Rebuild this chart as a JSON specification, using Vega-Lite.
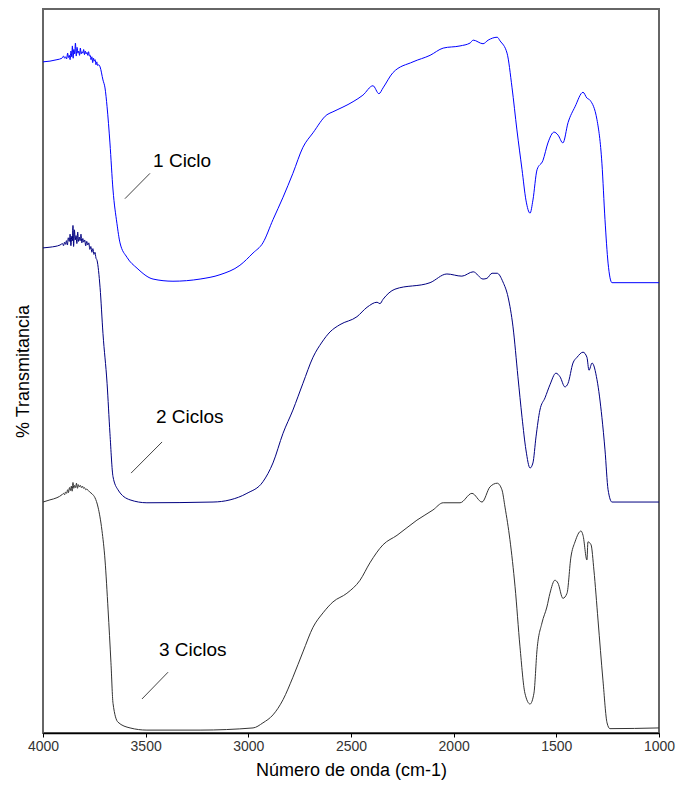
{
  "$schema": "https://vega.github.io/schema/vega-lite/v6.json",
  "width": 616,
  "height": 724,
  "autosize": {"type": "none"},
  "padding": {"left": 43, "top": 9, "right": 20, "bottom": 55},
  "background": "white",
  "config": {
    "font": "Liberation Sans",
    "view": {"stroke": "#666666", "strokeWidth": 2}
  },
  "datasets": {
    "spectra": [
      {"serie":"1 Ciclo","wn":4000,"T":92.7},{"serie":"1 Ciclo","wn":3966,"T":92.8},{"serie":"1 Ciclo","wn":3932,"T":93.0},
      {"serie":"1 Ciclo","wn":3908,"T":93.2},{"serie":"1 Ciclo","wn":3900,"T":93.5},{"serie":"1 Ciclo","wn":3895,"T":93.2},
      {"serie":"1 Ciclo","wn":3890,"T":93.4},{"serie":"1 Ciclo","wn":3885,"T":93.1},{"serie":"1 Ciclo","wn":3880,"T":93.9},
      {"serie":"1 Ciclo","wn":3876,"T":93.3},{"serie":"1 Ciclo","wn":3872,"T":93.6},{"serie":"1 Ciclo","wn":3868,"T":93.0},
      {"serie":"1 Ciclo","wn":3864,"T":94.2},{"serie":"1 Ciclo","wn":3860,"T":93.4},{"serie":"1 Ciclo","wn":3857,"T":94.9},
      {"serie":"1 Ciclo","wn":3853,"T":93.2},{"serie":"1 Ciclo","wn":3850,"T":94.4},{"serie":"1 Ciclo","wn":3846,"T":93.8},
      {"serie":"1 Ciclo","wn":3842,"T":95.3},{"serie":"1 Ciclo","wn":3838,"T":93.5},{"serie":"1 Ciclo","wn":3834,"T":94.7},
      {"serie":"1 Ciclo","wn":3830,"T":93.9},{"serie":"1 Ciclo","wn":3826,"T":94.2},{"serie":"1 Ciclo","wn":3822,"T":93.6},
      {"serie":"1 Ciclo","wn":3818,"T":94.6},{"serie":"1 Ciclo","wn":3814,"T":93.8},{"serie":"1 Ciclo","wn":3810,"T":94.1},
      {"serie":"1 Ciclo","wn":3806,"T":93.9},{"serie":"1 Ciclo","wn":3802,"T":94.4},{"serie":"1 Ciclo","wn":3798,"T":93.7},
      {"serie":"1 Ciclo","wn":3794,"T":94.2},{"serie":"1 Ciclo","wn":3790,"T":93.8},{"serie":"1 Ciclo","wn":3786,"T":94.0},
      {"serie":"1 Ciclo","wn":3782,"T":93.6},{"serie":"1 Ciclo","wn":3778,"T":94.1},{"serie":"1 Ciclo","wn":3774,"T":93.5},
      {"serie":"1 Ciclo","wn":3770,"T":93.6},{"serie":"1 Ciclo","wn":3766,"T":93.0},{"serie":"1 Ciclo","wn":3762,"T":93.4},
      {"serie":"1 Ciclo","wn":3758,"T":92.6},{"serie":"1 Ciclo","wn":3754,"T":93.2},{"serie":"1 Ciclo","wn":3750,"T":92.8},
      {"serie":"1 Ciclo","wn":3746,"T":93.0},{"serie":"1 Ciclo","wn":3742,"T":92.3},{"serie":"1 Ciclo","wn":3738,"T":92.7},
      {"serie":"1 Ciclo","wn":3734,"T":92.2},{"serie":"1 Ciclo","wn":3728,"T":92.3},
      {"serie":"1 Ciclo","wn":3722,"T":92.0},{"serie":"1 Ciclo","wn":3708,"T":90.2},{"serie":"1 Ciclo","wn":3698,"T":89.1},
      {"serie":"1 Ciclo","wn":3688,"T":86.5},{"serie":"1 Ciclo","wn":3674,"T":81.5},{"serie":"1 Ciclo","wn":3659,"T":75.0},
      {"serie":"1 Ciclo","wn":3640,"T":70.4},{"serie":"1 Ciclo","wn":3625,"T":67.7},{"serie":"1 Ciclo","wn":3591,"T":65.7},
      {"serie":"1 Ciclo","wn":3542,"T":64.2},{"serie":"1 Ciclo","wn":3464,"T":62.7},{"serie":"1 Ciclo","wn":3367,"T":62.4},
      {"serie":"1 Ciclo","wn":3235,"T":62.7},{"serie":"1 Ciclo","wn":3138,"T":63.3},{"serie":"1 Ciclo","wn":3041,"T":64.6},
      {"serie":"1 Ciclo","wn":2977,"T":66.3},{"serie":"1 Ciclo","wn":2929,"T":67.7},{"serie":"1 Ciclo","wn":2880,"T":70.9},
      {"serie":"1 Ciclo","wn":2831,"T":74.0},{"serie":"1 Ciclo","wn":2783,"T":77.3},{"serie":"1 Ciclo","wn":2734,"T":80.9},
      {"serie":"1 Ciclo","wn":2685,"T":82.9},{"serie":"1 Ciclo","wn":2617,"T":85.4},{"serie":"1 Ciclo","wn":2588,"T":85.8},
      {"serie":"1 Ciclo","wn":2490,"T":87.2},{"serie":"1 Ciclo","wn":2442,"T":88.1},{"serie":"1 Ciclo","wn":2393,"T":89.4},
      {"serie":"1 Ciclo","wn":2364,"T":88.3},{"serie":"1 Ciclo","wn":2344,"T":89.1},{"serie":"1 Ciclo","wn":2296,"T":91.2},
      {"serie":"1 Ciclo","wn":2198,"T":92.7},{"serie":"1 Ciclo","wn":2115,"T":93.6},{"serie":"1 Ciclo","wn":2051,"T":94.6},
      {"serie":"1 Ciclo","wn":1969,"T":94.9},{"serie":"1 Ciclo","wn":1920,"T":95.3},{"serie":"1 Ciclo","wn":1905,"T":95.7},
      {"serie":"1 Ciclo","wn":1857,"T":95.2},{"serie":"1 Ciclo","wn":1832,"T":95.7},{"serie":"1 Ciclo","wn":1788,"T":96.1},
      {"serie":"1 Ciclo","wn":1774,"T":95.6},{"serie":"1 Ciclo","wn":1740,"T":93.9},{"serie":"1 Ciclo","wn":1716,"T":89.2},
      {"serie":"1 Ciclo","wn":1692,"T":83.3},{"serie":"1 Ciclo","wn":1667,"T":77.8},{"serie":"1 Ciclo","wn":1648,"T":73.6},
      {"serie":"1 Ciclo","wn":1628,"T":71.8},{"serie":"1 Ciclo","wn":1614,"T":73.6},{"serie":"1 Ciclo","wn":1594,"T":77.8},
      {"serie":"1 Ciclo","wn":1565,"T":79.1},{"serie":"1 Ciclo","wn":1541,"T":81.5},{"serie":"1 Ciclo","wn":1511,"T":83.0},
      {"serie":"1 Ciclo","wn":1492,"T":82.6},{"serie":"1 Ciclo","wn":1468,"T":81.5},{"serie":"1 Ciclo","wn":1443,"T":84.3},
      {"serie":"1 Ciclo","wn":1409,"T":86.5},{"serie":"1 Ciclo","wn":1370,"T":88.5},{"serie":"1 Ciclo","wn":1351,"T":87.7},
      {"serie":"1 Ciclo","wn":1336,"T":87.4},{"serie":"1 Ciclo","wn":1302,"T":84.7},{"serie":"1 Ciclo","wn":1278,"T":78.7},
      {"serie":"1 Ciclo","wn":1263,"T":70.9},{"serie":"1 Ciclo","wn":1248,"T":64.9},{"serie":"1 Ciclo","wn":1229,"T":62.2},
      {"serie":"1 Ciclo","wn":1000,"T":62.2},

      {"serie":"2 Ciclos","wn":4000,"T":67.0},{"serie":"2 Ciclos","wn":3966,"T":67.1},{"serie":"2 Ciclos","wn":3917,"T":67.4},
      {"serie":"2 Ciclos","wn":3905,"T":67.6},{"serie":"2 Ciclos","wn":3900,"T":67.3},{"serie":"2 Ciclos","wn":3895,"T":67.8},
      {"serie":"2 Ciclos","wn":3890,"T":67.5},{"serie":"2 Ciclos","wn":3886,"T":68.0},{"serie":"2 Ciclos","wn":3881,"T":67.4},
      {"serie":"2 Ciclos","wn":3877,"T":68.4},{"serie":"2 Ciclos","wn":3872,"T":67.9},{"serie":"2 Ciclos","wn":3868,"T":68.9},
      {"serie":"2 Ciclos","wn":3864,"T":67.3},{"serie":"2 Ciclos","wn":3860,"T":68.6},{"serie":"2 Ciclos","wn":3857,"T":68.0},
      {"serie":"2 Ciclos","wn":3854,"T":70.1},{"serie":"2 Ciclos","wn":3851,"T":67.2},{"serie":"2 Ciclos","wn":3847,"T":69.5},
      {"serie":"2 Ciclos","wn":3843,"T":68.1},{"serie":"2 Ciclos","wn":3839,"T":68.7},{"serie":"2 Ciclos","wn":3835,"T":67.6},
      {"serie":"2 Ciclos","wn":3831,"T":69.2},{"serie":"2 Ciclos","wn":3827,"T":67.9},{"serie":"2 Ciclos","wn":3823,"T":68.5},
      {"serie":"2 Ciclos","wn":3819,"T":68.0},{"serie":"2 Ciclos","wn":3815,"T":68.9},{"serie":"2 Ciclos","wn":3811,"T":67.7},
      {"serie":"2 Ciclos","wn":3806,"T":68.3},{"serie":"2 Ciclos","wn":3802,"T":67.8},{"serie":"2 Ciclos","wn":3797,"T":68.1},
      {"serie":"2 Ciclos","wn":3792,"T":67.3},{"serie":"2 Ciclos","wn":3787,"T":67.9},{"serie":"2 Ciclos","wn":3782,"T":67.4},
      {"serie":"2 Ciclos","wn":3777,"T":67.7},{"serie":"2 Ciclos","wn":3772,"T":66.8},{"serie":"2 Ciclos","wn":3767,"T":67.2},
      {"serie":"2 Ciclos","wn":3762,"T":66.4},{"serie":"2 Ciclos","wn":3757,"T":66.9},{"serie":"2 Ciclos","wn":3752,"T":66.1},
      {"serie":"2 Ciclos","wn":3747,"T":66.4},{"serie":"2 Ciclos","wn":3742,"T":65.6},
      {"serie":"2 Ciclos","wn":3737,"T":65.3},{"serie":"2 Ciclos","wn":3722,"T":61.5},{"serie":"2 Ciclos","wn":3708,"T":55.2},
      {"serie":"2 Ciclos","wn":3688,"T":48.3},{"serie":"2 Ciclos","wn":3674,"T":41.4},{"serie":"2 Ciclos","wn":3659,"T":35.4},
      {"serie":"2 Ciclos","wn":3635,"T":33.6},{"serie":"2 Ciclos","wn":3576,"T":32.2},{"serie":"2 Ciclos","wn":3494,"T":31.8},
      {"serie":"2 Ciclos","wn":3172,"T":31.9},{"serie":"2 Ciclos","wn":3089,"T":32.2},{"serie":"2 Ciclos","wn":3007,"T":33.1},
      {"serie":"2 Ciclos","wn":2929,"T":34.7},{"serie":"2 Ciclos","wn":2880,"T":37.3},{"serie":"2 Ciclos","wn":2831,"T":41.4},
      {"serie":"2 Ciclos","wn":2783,"T":44.6},{"serie":"2 Ciclos","wn":2734,"T":48.3},{"serie":"2 Ciclos","wn":2685,"T":51.9},
      {"serie":"2 Ciclos","wn":2641,"T":54.0},{"serie":"2 Ciclos","wn":2602,"T":55.4},{"serie":"2 Ciclos","wn":2554,"T":56.4},
      {"serie":"2 Ciclos","wn":2471,"T":57.5},{"serie":"2 Ciclos","wn":2422,"T":58.8},{"serie":"2 Ciclos","wn":2373,"T":59.5},
      {"serie":"2 Ciclos","wn":2359,"T":59.3},{"serie":"2 Ciclos","wn":2344,"T":59.9},{"serie":"2 Ciclos","wn":2286,"T":61.3},
      {"serie":"2 Ciclos","wn":2115,"T":62.2},{"serie":"2 Ciclos","wn":2033,"T":63.4},{"serie":"2 Ciclos","wn":1960,"T":63.1},
      {"serie":"2 Ciclos","wn":1905,"T":63.7},{"serie":"2 Ciclos","wn":1857,"T":62.7},{"serie":"2 Ciclos","wn":1838,"T":62.8},
      {"serie":"2 Ciclos","wn":1813,"T":63.5},{"serie":"2 Ciclos","wn":1788,"T":63.5},{"serie":"2 Ciclos","wn":1760,"T":62.3},
      {"serie":"2 Ciclos","wn":1735,"T":60.2},{"serie":"2 Ciclos","wn":1711,"T":56.1},{"serie":"2 Ciclos","wn":1687,"T":49.2},
      {"serie":"2 Ciclos","wn":1667,"T":43.6},{"serie":"2 Ciclos","wn":1648,"T":39.1},{"serie":"2 Ciclos","wn":1628,"T":36.6},
      {"serie":"2 Ciclos","wn":1614,"T":37.3},{"serie":"2 Ciclos","wn":1599,"T":40.9},{"serie":"2 Ciclos","wn":1580,"T":44.6},
      {"serie":"2 Ciclos","wn":1555,"T":46.3},{"serie":"2 Ciclos","wn":1531,"T":48.1},{"serie":"2 Ciclos","wn":1502,"T":49.7},
      {"serie":"2 Ciclos","wn":1482,"T":49.2},{"serie":"2 Ciclos","wn":1458,"T":47.8},{"serie":"2 Ciclos","wn":1443,"T":48.3},
      {"serie":"2 Ciclos","wn":1419,"T":51.1},{"serie":"2 Ciclos","wn":1399,"T":51.9},{"serie":"2 Ciclos","wn":1370,"T":52.6},
      {"serie":"2 Ciclos","wn":1351,"T":51.9},{"serie":"2 Ciclos","wn":1341,"T":50.1},{"serie":"2 Ciclos","wn":1326,"T":51.1},
      {"serie":"2 Ciclos","wn":1302,"T":48.8},{"serie":"2 Ciclos","wn":1278,"T":43.6},{"serie":"2 Ciclos","wn":1263,"T":39.1},
      {"serie":"2 Ciclos","wn":1248,"T":33.6},{"serie":"2 Ciclos","wn":1229,"T":31.9},{"serie":"2 Ciclos","wn":1000,"T":31.9},

      {"serie":"3 Ciclos","wn":4000,"T":31.9},{"serie":"3 Ciclos","wn":3966,"T":32.2},{"serie":"3 Ciclos","wn":3932,"T":32.5},
      {"serie":"3 Ciclos","wn":3908,"T":32.9},{"serie":"3 Ciclos","wn":3900,"T":33.1},{"serie":"3 Ciclos","wn":3895,"T":32.9},
      {"serie":"3 Ciclos","wn":3890,"T":33.3},{"serie":"3 Ciclos","wn":3885,"T":33.1},{"serie":"3 Ciclos","wn":3880,"T":33.6},
      {"serie":"3 Ciclos","wn":3876,"T":33.2},{"serie":"3 Ciclos","wn":3871,"T":33.9},{"serie":"3 Ciclos","wn":3866,"T":33.5},
      {"serie":"3 Ciclos","wn":3862,"T":34.1},{"serie":"3 Ciclos","wn":3858,"T":33.4},{"serie":"3 Ciclos","wn":3854,"T":34.6},
      {"serie":"3 Ciclos","wn":3850,"T":33.8},{"serie":"3 Ciclos","wn":3846,"T":34.2},{"serie":"3 Ciclos","wn":3841,"T":33.9},
      {"serie":"3 Ciclos","wn":3837,"T":34.5},{"serie":"3 Ciclos","wn":3832,"T":33.8},{"serie":"3 Ciclos","wn":3828,"T":34.3},
      {"serie":"3 Ciclos","wn":3823,"T":34.0},{"serie":"3 Ciclos","wn":3818,"T":34.2},{"serie":"3 Ciclos","wn":3813,"T":33.9},
      {"serie":"3 Ciclos","wn":3808,"T":34.1},{"serie":"3 Ciclos","wn":3803,"T":33.8},{"serie":"3 Ciclos","wn":3798,"T":33.9},
      {"serie":"3 Ciclos","wn":3792,"T":33.6},{"serie":"3 Ciclos","wn":3786,"T":33.7},{"serie":"3 Ciclos","wn":3780,"T":33.5},
      {"serie":"3 Ciclos","wn":3773,"T":33.3},{"serie":"3 Ciclos","wn":3760,"T":33.0},{"serie":"3 Ciclos","wn":3747,"T":32.5},
      {"serie":"3 Ciclos","wn":3732,"T":31.2},{"serie":"3 Ciclos","wn":3713,"T":28.0},{"serie":"3 Ciclos","wn":3698,"T":23.9},
      {"serie":"3 Ciclos","wn":3683,"T":17.0},{"serie":"3 Ciclos","wn":3669,"T":9.7},{"serie":"3 Ciclos","wn":3659,"T":4.1},
      {"serie":"3 Ciclos","wn":3635,"T":1.5},{"serie":"3 Ciclos","wn":3576,"T":0.7},{"serie":"3 Ciclos","wn":3494,"T":0.4},
      {"serie":"3 Ciclos","wn":3235,"T":0.4},{"serie":"3 Ciclos","wn":2977,"T":0.7},{"serie":"3 Ciclos","wn":2929,"T":1.4},
      {"serie":"3 Ciclos","wn":2880,"T":2.5},{"serie":"3 Ciclos","wn":2831,"T":4.6},{"serie":"3 Ciclos","wn":2783,"T":7.7},
      {"serie":"3 Ciclos","wn":2734,"T":11.2},{"serie":"3 Ciclos","wn":2685,"T":14.6},{"serie":"3 Ciclos","wn":2636,"T":16.6},
      {"serie":"3 Ciclos","wn":2588,"T":18.1},{"serie":"3 Ciclos","wn":2520,"T":19.3},{"serie":"3 Ciclos","wn":2456,"T":21.1},
      {"serie":"3 Ciclos","wn":2408,"T":23.5},{"serie":"3 Ciclos","wn":2344,"T":26.0},{"serie":"3 Ciclos","wn":2276,"T":27.3},
      {"serie":"3 Ciclos","wn":2179,"T":29.4},{"serie":"3 Ciclos","wn":2101,"T":30.8},{"serie":"3 Ciclos","wn":2051,"T":31.8},
      {"serie":"3 Ciclos","wn":1969,"T":31.8},{"serie":"3 Ciclos","wn":1911,"T":33.1},{"serie":"3 Ciclos","wn":1862,"T":31.9},
      {"serie":"3 Ciclos","wn":1823,"T":34.0},{"serie":"3 Ciclos","wn":1788,"T":34.5},{"serie":"3 Ciclos","wn":1765,"T":33.6},
      {"serie":"3 Ciclos","wn":1750,"T":31.2},{"serie":"3 Ciclos","wn":1726,"T":26.7},{"serie":"3 Ciclos","wn":1701,"T":20.2},
      {"serie":"3 Ciclos","wn":1677,"T":11.9},{"serie":"3 Ciclos","wn":1653,"T":5.5},{"serie":"3 Ciclos","wn":1628,"T":4.0},
      {"serie":"3 Ciclos","wn":1609,"T":5.5},{"serie":"3 Ciclos","wn":1594,"T":11.5},{"serie":"3 Ciclos","wn":1570,"T":15.2},
      {"serie":"3 Ciclos","wn":1546,"T":17.4},{"serie":"3 Ciclos","wn":1531,"T":19.3},{"serie":"3 Ciclos","wn":1507,"T":21.1},
      {"serie":"3 Ciclos","wn":1492,"T":20.7},{"serie":"3 Ciclos","wn":1468,"T":18.6},{"serie":"3 Ciclos","wn":1448,"T":19.3},
      {"serie":"3 Ciclos","wn":1429,"T":24.3},{"serie":"3 Ciclos","wn":1409,"T":26.4},{"serie":"3 Ciclos","wn":1380,"T":27.9},
      {"serie":"3 Ciclos","wn":1370,"T":27.3},{"serie":"3 Ciclos","wn":1351,"T":23.9},{"serie":"3 Ciclos","wn":1346,"T":26.4},
      {"serie":"3 Ciclos","wn":1331,"T":26.0},{"serie":"3 Ciclos","wn":1317,"T":22.5},{"serie":"3 Ciclos","wn":1297,"T":15.6},
      {"serie":"3 Ciclos","wn":1273,"T":7.3},{"serie":"3 Ciclos","wn":1253,"T":1.4},{"serie":"3 Ciclos","wn":1239,"T":0.6},
      {"serie":"3 Ciclos","wn":1000,"T":0.7}
    ],
    "labels": [
      {"label":"1 Ciclo","wn":3464,"T":79.0},
      {"label":"2 Ciclos","wn":3450,"T":43.6},
      {"label":"3 Ciclos","wn":3435,"T":11.5}
    ],
    "leaders": [
      {"wn":3479,"T":77.3,"wn2":3601,"T2":73.8},
      {"wn":3420,"T":40.2,"wn2":3571,"T2":35.9},
      {"wn":3391,"T":8.4,"wn2":3518,"T2":4.7}
    ]
  },
  "encoding": {
    "x": {
      "field": "wn", "type": "quantitative",
      "scale": {"domain": [1000, 4000], "reverse": true, "nice": false, "zero": false},
      "axis": {
        "title": "Número de onda (cm-1)",
        "values": [4000, 3500, 3000, 2500, 2000, 1500, 1000],
        "format": "d",
        "grid": false,
        "domainColor": "#000000", "domainWidth": 1.5,
        "tickColor": "#000000", "tickSize": 4, "tickWidth": 1,
        "labelFontSize": 14, "labelColor": "#333333", "labelPadding": 2,
        "labelFlush": false, "labelOverlap": false,
        "titleFontSize": 18, "titleFontWeight": "normal", "titleColor": "#000000", "titlePadding": 8
      }
    },
    "y": {
      "field": "T", "type": "quantitative",
      "scale": {"domain": [0, 100], "nice": false, "zero": false},
      "axis": {
        "title": "% Transmitancia",
        "labels": false, "ticks": false, "domain": false, "grid": false,
        "titleFontSize": 18, "titleFontWeight": "normal", "titleColor": "#000000", "titlePadding": 11
      }
    }
  },
  "layer": [
    {
      "data": {"name": "spectra"},
      "mark": {"type": "line", "strokeWidth": 1, "interpolate": "monotone"},
      "encoding": {
        "color": {
          "field": "serie", "type": "nominal",
          "scale": {"domain": ["1 Ciclo", "2 Ciclos", "3 Ciclos"], "range": ["#0000ff", "#000080", "#333333"]},
          "legend": null
        }
      }
    },
    {
      "data": {"name": "leaders"},
      "mark": {"type": "rule", "color": "#444444", "strokeWidth": 1},
      "encoding": {
        "x2": {"field": "wn2"},
        "y2": {"field": "T2"}
      }
    },
    {
      "data": {"name": "labels"},
      "mark": {"type": "text", "align": "left", "baseline": "middle", "fontSize": 19, "color": "#000000"},
      "encoding": {
        "text": {"field": "label", "type": "nominal"}
      }
    }
  ]
}
